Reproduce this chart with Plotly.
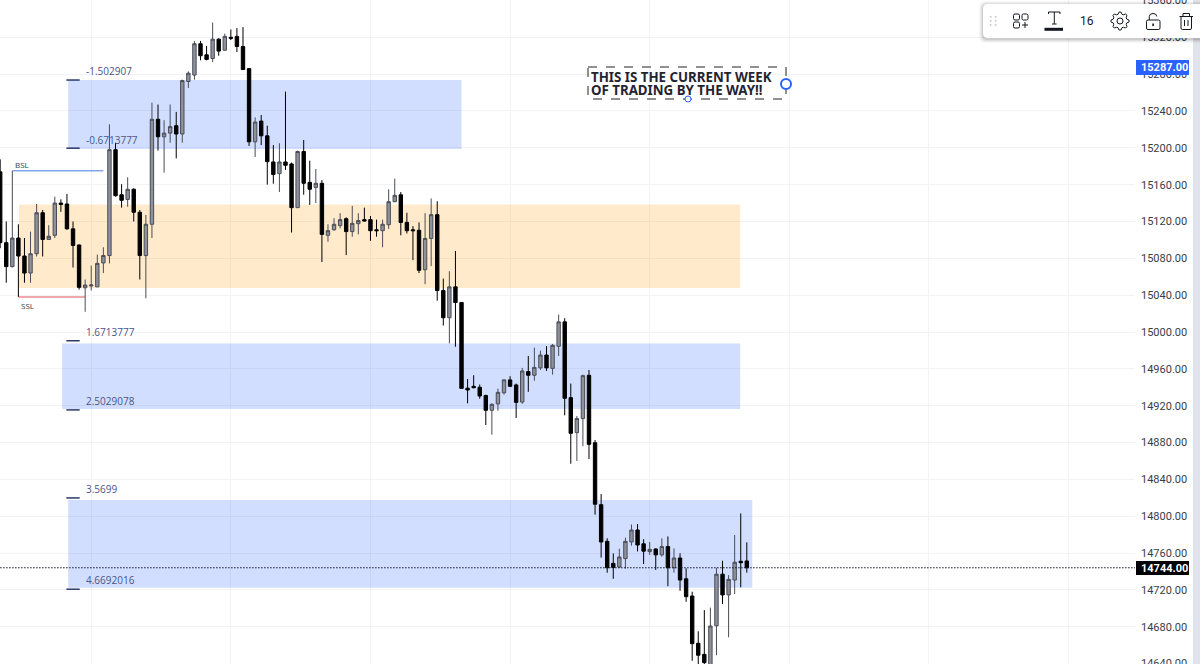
import math

import plotly.graph_objects as go

# =====================================================
# Data
# =====================================================

opens = [15174, 15097, 15071, 15102, 15082.5, 15064, 15085, 15129.5, 15100.5, 15105,
         15140, 15139, 15112, 15094.5, 15048, 15050, 15049, 15075, 15083, 15198,
         15149, 15144, 15155, 15130, 15083, 15117, 15231, 15212, 15216, 15224,
         15215, 15272, 15279, 15313, 15301, 15297, 15318, 15306, 15320, 15321,
         15310, 15286, 15206.5, 15229, 15213, 15184.6, 15172, 15184.6, 15182.5, 15135,
         15196, 15162.5, 15157, 15161.5, 15105, 15111, 15115.5, 15123, 15109, 15117.6,
         15122, 15122, 15111, 15110, 15116.5, 15141.5, 15149, 15119, 15111, 15110.5,
         15067.6, 15101.6, 15127.4, 15045, 15015.5, 15049, 15032, 14939, 14941, 14940,
         14931, 14915, 14922, 14934, 14948, 14942.5, 14924, 14957, 14953, 14961,
         14975, 14960.5, 14984.5, 15011, 14928.7, 14890.7, 14906, 14953, 14879.8, 14812.5,
         14772.7, 14748.8, 14744.8, 14754, 14772, 14785, 14770, 14761.5, 14764.4, 14758,
         14767, 14744, 14754.6, 14732, 14713.3, 14662, 14650, 14638, 14681, 14737,
         14714.5, 14730.7, 14751, 14751.4]
highs = [15187.5, 15120, 15175, 15117, 15102, 15109, 15139, 15132.5, 15116, 15147,
         15144, 15150, 15120, 15095, 15057, 15072, 15084, 15092, 15225.5, 15205.5,
         15160.5, 15168, 15156, 15132.5, 15127, 15249, 15247, 15230, 15247, 15239,
         15274, 15283, 15316, 15316, 15310.5, 15336, 15319, 15324, 15328.5, 15330,
         15331, 15286, 15233, 15235.6, 15224, 15203, 15205, 15261, 15184, 15197,
         15208.5, 15186, 15177, 15165, 15117, 15123.5, 15129, 15124.5, 15137, 15129,
         15135, 15126, 15122, 15122, 15155, 15166.5, 15152, 15129.5, 15115, 15119,
         15129, 15145, 15142, 15058, 15066, 15088, 15032.5, 14949, 14953, 14943,
         14932, 14922.5, 14938.5, 14948.5, 14952, 14944, 14961, 14974, 14983, 14979.7,
         14984.8, 14987, 15019, 15015, 14944, 14908.8, 14953.7, 14958.7, 14882.7, 14824,
         14776, 14759.6, 14764.7, 14776.7, 14791, 14791.5, 14775, 14772, 14765, 14776,
         14778, 14765, 14759.7, 14743.4, 14718, 14675, 14698, 14700.7, 14744, 14751.7,
         14736, 14779.6, 14803, 14771.6]
lows = [15091, 15053.5, 15070, 15038, 15053.5, 15053.5, 15082, 15082, 15100, 15102,
        15130.5, 15111, 15070, 15046, 15022, 15045, 15049, 15064, 15074.5, 15147,
        15135, 15136, 15120, 15057, 15036.5, 15102, 15197, 15173, 15205.5, 15188.5,
        15205.5, 15265, 15274, 15295, 15295, 15293, 15300, 15305.5, 15317, 15304,
        15284.5, 15202, 15190, 15203, 15160, 15161, 15152, 15176, 15108, 15135,
        15149, 15138, 15140, 15076, 15098, 15110, 15112.5, 15083.5, 15103.5, 15106,
        15120, 15099, 15103.5, 15092, 15112, 15141, 15105, 15107, 15078, 15064,
        15052, 15071.6, 15034, 15007, 14987.6, 14984, 14938.5, 14922.5, 14938.8, 14927.6,
        14899, 14888.5, 14914.5, 14932, 14940.7, 14906.6, 14922, 14935, 14947, 14958.7,
        14957.7, 14953.7, 14974, 14909.5, 14857, 14860, 14876, 14862, 14801.6, 14755,
        14738.6, 14732, 14744, 14743, 14768, 14761.7, 14748, 14758, 14741.6, 14756,
        14724, 14738.7, 14719, 14707, 14643, 14636, 14635, 14632, 14649, 14704.6,
        14668.5, 14715.5, 14722.8, 14738.7]
closes = [15097, 15071, 15102, 15082.5, 15064, 15085, 15129.5, 15100.5, 15104, 15140,
          15138.5, 15112, 15094, 15048.5, 15051, 15051, 15074.5, 15083, 15198, 15148,
          15143, 15155, 15130, 15083, 15117, 15231, 15212, 15216, 15223, 15215,
          15273, 15281, 15313, 15300, 15296, 15318, 15305, 15321, 15319, 15310,
          15285, 15206.5, 15228, 15213, 15185, 15171, 15184.6, 15181, 15135, 15196,
          15161.5, 15155, 15161.5, 15106, 15110, 15117, 15122, 15109, 15118, 15121,
          15120.5, 15110, 15110, 15117, 15141.5, 15148.4, 15119, 15110, 15110, 15067,
          15101.6, 15127.4, 15045, 15015.5, 15049, 15032, 14938.8, 14937, 14939.5, 14930.5,
          14915, 14921.5, 14934.5, 14948, 14941, 14923.6, 14957.7, 14953, 14961.6, 14975,
          14961, 14985.5, 15011, 14928, 14890, 14906, 14952.6, 14878, 14813, 14772,
          14744, 14744.4, 14755.7, 14772.7, 14785, 14768.7, 14762, 14764, 14758, 14767,
          14744, 14754.6, 14730.7, 14712.6, 14661.6, 14649, 14641, 14680.8, 14737, 14714.5,
          14731.4, 14750, 14749.5, 14744]

price_zones_blue = [(15273.6, 15198.7), (14987.5, 14916.5), (14817.6, 14722.3)]
zone_blue_bars = [(11.2, 76), (10.2, 121.9), (11.2, 123.9)]
zone_orange = (15138.5, 15047.8)
zone_orange_bars = (3.1, 121.9)

zone_labels = ["-1.502907", "-0.6713777", "1.6713777", "2.5029078", "3.5699", "4.6692016"]
zone_label_prices = [15283.4, 15208.5, 15000, 14925, 14829.5, 14731]
zone_tick_prices = [15273.6, 15199.6, 14990.5, 14915.4, 14819.8, 14720.7]

vgrid_bars = [15, 38, 61, 84, 107, 130, 153, 176]
current_price = 14744.0
marked_price = 15287.0
bsl_price = 15175
ssl_price = 15038

bars = list(range(len(opens)))

# =====================================================
# Layout constants
# =====================================================

W, H = 1200, 664
PLOT_W = 1135
BLUE_FILL = "rgba(41,98,255,0.21)"
ORANGE_FILL = "rgba(255,152,0,0.2)"
LABEL_FONT = "Open Sans"
ICON = "#131722"


def px_shape(**kw):
    return dict(xref="x2", yref="y2", layer="above", **kw)


def round_rect(x0, y0, x1, y1, r):
    return (f"M{x0+r},{y0} L{x1-r},{y0} Q{x1},{y0} {x1},{y0+r} L{x1},{y1-r} Q{x1},{y1} {x1-r},{y1} "
            f"L{x0+r},{y1} Q{x0},{y1} {x0},{y1-r} L{x0},{y0+r} Q{x0},{y0} {x0+r},{y0} Z")


def gear_path(cx, cy, r_out, r_in, teeth=8):
    pts = []
    for k in range(teeth * 4):
        a = 2 * math.pi * (k - 0.5) / (teeth * 4)
        r = r_out if k % 4 in (0, 1) else r_in
        pts.append((cx + r * math.cos(a), cy + r * math.sin(a)))
    return "M" + " L".join(f"{x:.1f},{y:.1f}" for x, y in pts) + " Z"


# =====================================================
# Figure
# =====================================================

fig = go.Figure()

fig.add_trace(go.Candlestick(
    x=bars, open=opens, high=highs, low=lows, close=closes,
    increasing=dict(line=dict(color="#4a4d57", width=1), fillcolor="#8f929b"),
    decreasing=dict(line=dict(color="#000000", width=1), fillcolor="#000000"),
    whiskerwidth=0,
    hoverinfo="skip",
    showlegend=False,
))

# pixel overlay axes for the drawings that sit on the chart window
fig.add_trace(go.Scatter(x=[0], y=[0], xaxis="x2", yaxis="y2", mode="markers",
                         marker=dict(opacity=0), hoverinfo="skip", showlegend=False))

shapes = []

# zones
for (p0, p1), (b0, b1) in zip(price_zones_blue, zone_blue_bars):
    shapes.append(dict(type="rect", xref="x", yref="y", x0=b0, x1=b1, y0=p0, y1=p1,
                       fillcolor=BLUE_FILL, line_width=0, layer="between"))
shapes.append(dict(type="rect", xref="x", yref="y", x0=zone_orange_bars[0], x1=zone_orange_bars[1],
                   y0=zone_orange[0], y1=zone_orange[1], fillcolor=ORANGE_FILL, line_width=0, layer="between"))

# fib ticks next to the zones
for p in zone_tick_prices:
    shapes.append(dict(type="line", xref="x", yref="y", x0=10.9, x1=13.1, y0=p, y1=p,
                       line=dict(color="#2a3a6a", width=1.5), layer="above"))

# BSL / SSL
shapes.append(dict(type="line", xref="x", yref="y", x0=2, x1=17, y0=bsl_price, y1=bsl_price,
                   line=dict(color="#4a78e0", width=1), layer="above"))
shapes.append(dict(type="line", xref="x", yref="y", x0=3, x1=14, y0=ssl_price, y1=ssl_price,
                   line=dict(color="#e0505a", width=1), layer="above"))

# last price line
shapes.append(dict(type="line", xref="x", yref="y", x0=-1, x1=187, y0=current_price, y1=current_price,
                   line=dict(color="#131722", width=1, dash="1.5px,1.5px"), layer="above"))

# text box frame and handles
shapes.append(px_shape(type="rect", x0=588, x1=786, y0=67, y1=99, line=dict(color="#222222", width=1, dash="dash")))
shapes.append(px_shape(type="circle", x0=781, x1=791, y0=79, y1=89, fillcolor="white", line=dict(color="#2962ff", width=2)))
shapes.append(px_shape(type="circle", x0=685, x1=691, y0=96, y1=102, fillcolor="white", line=dict(color="#2962ff", width=1)))

# right hand strip
shapes.append(px_shape(type="rect", x0=1193, x1=1200, y0=0, y1=664, fillcolor="#e0e3eb", line_width=0))

# price labels
shapes.append(px_shape(type="rect", x0=1136, x1=1189, y0=60, y1=75, fillcolor="#2962ff", line_width=0))
shapes.append(px_shape(type="rect", x0=1136, x1=1189, y0=561, y1=575, fillcolor="#000000", line_width=0))

# floating toolbar, with a soft shadow
for grow, alpha in [(4, 0.03), (3, 0.04), (2, 0.06), (1, 0.08)]:
    shapes.append(px_shape(type="path", path=round_rect(983 - grow, 4 - grow + 1, 1210, 38 + grow + 1, 6),
                           fillcolor=f"rgba(0,0,0,{alpha})", line_width=0))
shapes.append(px_shape(type="path", path=round_rect(983, 4, 1210, 38, 5), fillcolor="white", line_width=0))

# grip dots
for gx in (990.7, 995.7):
    for gy in (16.7, 20.8, 25):
        shapes.append(px_shape(type="circle", x0=gx - 1, x1=gx + 1, y0=gy - 1, y1=gy + 1,
                               fillcolor="#c9cbd3", line_width=0))

icon_line = dict(color=ICON, width=1)
# template icon
for x0, y0 in [(1013.5, 14), (1022, 14), (1013.5, 22)]:
    shapes.append(px_shape(type="path", path=round_rect(x0, y0, x0 + 6, y0 + 6, 1.5), line=icon_line))
shapes.append(px_shape(type="path", path="M1022,25 L1028,25 M1025,22 L1025,28", line=icon_line))
# text colour icon
shapes.append(px_shape(type="path", path="M1048.5,14 L1048.5,12 L1060,12 L1060,14 M1054.3,12 L1054.3,24 M1052,24 L1056.6,24", line=icon_line))
shapes.append(px_shape(type="line", x0=1044.5, x1=1063, y0=29.3, y1=29.3, line=dict(color=ICON, width=3)))
# gear
shapes.append(px_shape(type="path", path=gear_path(1120, 21, 9, 7), line=icon_line))
shapes.append(px_shape(type="circle", x0=1117, x1=1123, y0=18, y1=24, line=icon_line))
# lock
shapes.append(px_shape(type="path", path=round_rect(1146.5, 20, 1160, 29.5, 1.5), line=icon_line))
shapes.append(px_shape(type="path", path="M1149.3,20 L1149.3,16.5 Q1149.3,13.5 1153,13.5 Q1156.6,13.5 1156.8,16.5", line=icon_line))
shapes.append(px_shape(type="rect", x0=1152.3, x1=1153.9, y0=23.5, y1=26, fillcolor=ICON, line_width=0))
# trash
shapes.append(px_shape(type="path", path="M1179.5,16.5 L1193,16.5 M1183,16.5 L1183,13.5 L1189.5,13.5 L1189.5,16.5", line=icon_line))
shapes.append(px_shape(type="path", path="M1181,16.5 L1181,28 Q1181,29.5 1182.5,29.5 L1190,29.5 Q1191.5,29.5 1191.5,28 L1191.5,16.5", line=icon_line))
shapes.append(px_shape(type="path", path="M1184.5,20 L1184.5,26 M1188,20 L1188,26", line=icon_line))

annotations = []

# fib labels
for text, p in zip(zone_labels, zone_label_prices):
    annotations.append(dict(text=text, xref="x", yref="y", x=13.8, y=p, xanchor="left", yanchor="middle",
                            showarrow=False, font=dict(family=LABEL_FONT, size=10, color="#4a5684")))

# small labels
annotations.append(dict(text="BSL", xref="x2", yref="y2", x=13, y=164, xanchor="left", yanchor="middle",
                        showarrow=False, font=dict(family=LABEL_FONT, size=8, color="#333a4a")))
annotations.append(dict(text="SSL", xref="x2", yref="y2", x=19, y=305, xanchor="left", yanchor="middle",
                        showarrow=False, font=dict(family=LABEL_FONT, size=8, color="#333a4a")))

# the note
for text, ty in [("THIS IS THE CURRENT WEEK", 77), ("OF TRADING BY THE WAY!!", 90)]:
    annotations.append(dict(text=f"<b>{text}</b>", xref="x2", yref="y2", x=589, y=ty, xanchor="left", yanchor="middle",
                            showarrow=False, font=dict(family="Noto Sans", size=13.3, color="#1f2430")))

# axis tags
annotations.append(dict(text=f"<b>{marked_price:.2f}</b>", xref="x2", yref="y2", x=1164, y=67.5, showarrow=False,
                        font=dict(family="Roboto", size=11, color="white")))
annotations.append(dict(text=f"<b>{current_price:.2f}</b>", xref="x2", yref="y2", x=1164, y=568, showarrow=False,
                        font=dict(family="Roboto", size=11, color="white")))
annotations.append(dict(text="16", xref="x2", yref="y2", x=1087, y=21, showarrow=False,
                        font=dict(family="Roboto", size=12, color=ICON)))

fig.update_layout(
    width=W,
    height=H,
    autosize=False,
    margin=dict(l=0, r=0, t=0, b=0),
    paper_bgcolor="white",
    plot_bgcolor="rgba(0,0,0,0)",
    showlegend=False,
    dragmode=False,
    boxgap=0.2,
    shapes=shapes,
    annotations=annotations,
    xaxis=dict(
        domain=[0, PLOT_W / W],
        range=[-0.03, 186.95],
        rangeslider=dict(visible=False),
        tickvals=vgrid_bars,
        showticklabels=False,
        ticks="",
        showgrid=True,
        gridcolor="#f3f3f5",
        gridwidth=1,
        zeroline=False,
        showline=False,
        automargin=False,
        anchor="y",
    ),
    yaxis=dict(
        domain=[0, 1],
        range=[14639.5, 15360.5],
        side="right",
        tick0=14640,
        dtick=40,
        tickformat=".2f",
        ticks="",
        ticklabelstandoff=5,
        ticklabeloverflow="allow",
        tickfont=dict(family="Roboto", size=11, color="#3a3d46"),
        showgrid=True,
        gridcolor="#f3f3f5",
        gridwidth=1,
        zeroline=False,
        showline=False,
        automargin=False,
        anchor="x",
    ),
    xaxis2=dict(domain=[0, 1], range=[0, W], visible=False, anchor="y2", fixedrange=True, automargin=False),
    yaxis2=dict(domain=[0, 1], range=[H, 0], visible=False, anchor="x2", fixedrange=True, automargin=False),
)

fig.write_html("out.html", config=dict(displayModeBar=False),
               post_script="document.body.style.margin='0';document.documentElement.style.overflow='hidden';")
